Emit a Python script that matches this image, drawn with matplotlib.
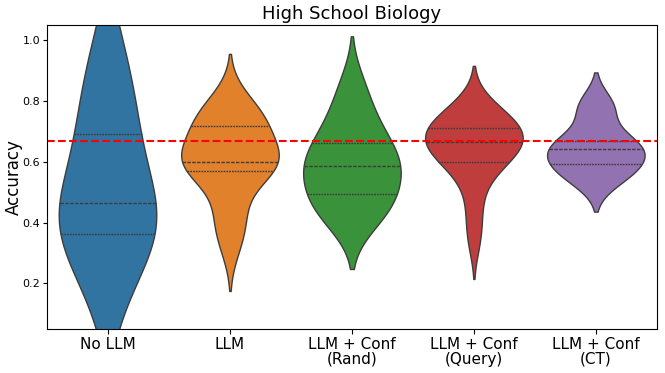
import matplotlib
matplotlib.use("Agg")
import matplotlib.pyplot as plt
import seaborn as sns
import pandas as pd

categories = ["No LLM", "LLM", "LLM + Conf\n(Rand)", "LLM + Conf\n(Query)", "LLM + Conf\n(CT)"]

no_llm = [0.14, 0.27, 0.34, 0.37, 0.41, 0.44, 0.49, 0.58, 0.67, 0.75, 0.85, 0.98]
llm = [0.32, 0.38, 0.42, 0.47, 0.565, 0.57, 0.58, 0.59, 0.60, 0.60,
       0.60, 0.63, 0.65, 0.67, 0.715, 0.73, 0.74, 0.75, 0.77, 0.81]
conf_rand = [0.41, 0.43, 0.47, 0.50, 0.54, 0.57, 0.60, 0.62, 0.65, 0.70, 0.76, 0.85]
conf_query = [0.34, 0.42, 0.50, 0.56, 0.60, 0.60, 0.62, 0.63, 0.65, 0.66,
              0.67, 0.68, 0.69, 0.70, 0.71, 0.72, 0.73, 0.75, 0.77, 0.79]
conf_ct = [0.54, 0.56, 0.59, 0.60, 0.63, 0.655, 0.66, 0.67, 0.77, 0.79]
threshold = 0.667

series = [no_llm, llm, conf_rand, conf_query, conf_ct]
rows = []
for cat, vals in zip(categories, series):
    for v in vals:
        rows.append({"cond": cat, "acc": v})
df = pd.DataFrame(rows)

fig = plt.figure(figsize=(6.65, 3.73), dpi=100)
ax = fig.add_axes([0.0707, 0.118, 0.917, 0.815])
sns.violinplot(data=df, x="cond", y="acc", hue="cond", order=categories,
               inner="quart", density_norm="width", ax=ax, legend=False,
               linewidth=1.0)
ax.axhline(threshold, color="red", linestyle="--", linewidth=1.5)
ax.set_ylim(0.05, 1.05)
ax.set_yticks([0.2, 0.4, 0.6, 0.8, 1.0])
ax.tick_params(axis="y", labelsize=8, length=3, pad=2)
ax.tick_params(axis="x", labelsize=11, pad=2)
for lab in ax.get_xticklabels():
    lab.set_linespacing(1.0)
ax.set_xlabel("")
ax.set_ylabel("Accuracy", fontsize=12)
ax.yaxis.set_label_coords(-0.04, 0.5)
ax.set_title("High School Biology", fontsize=13, pad=4)
fig.savefig("out.png", dpi=100)
